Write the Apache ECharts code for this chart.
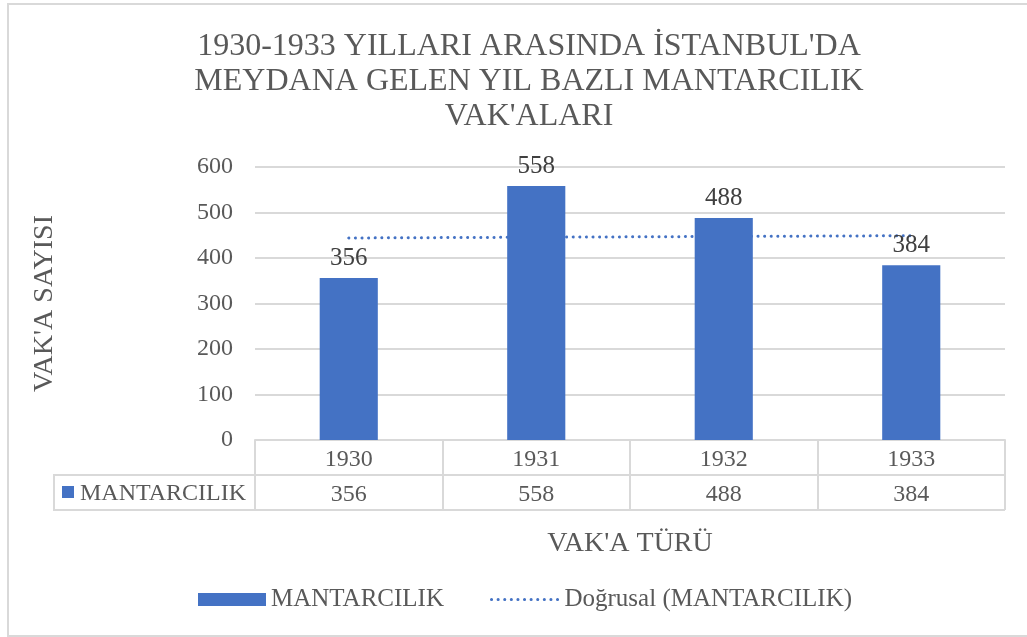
<!DOCTYPE html>
<html>
<head>
<meta charset="utf-8">
<script src="https://cdn.jsdelivr.net/npm/echarts@6/dist/echarts.min.js"></script>
<style>
  html, body { margin: 0; padding: 0; background: #fff; }
  #chart { width: 1027px; height: 637px; }
</style>
</head>
<body>
<div id="chart"></div>
<script>
var years = ['1930', '1931', '1932', '1933'];
var mantarcilik = [356, 558, 488, 384];
// trend line: start and end only
var trend = [444, '-', '-', 449];
var yTicks = { min: 0, max: 600, interval: 100 };

var serif = '"Liberation Serif", "DejaVu Serif", serif';
var textColor = '#595959';
var blue = '#4472C4';
var gridLine = '#d9d9d9';

var chart = echarts.init(document.getElementById('chart'));

var option = {
    backgroundColor: '#fff',
    animation: false,
    title: {
        text: "1930-1933 YILLARI ARASINDA İSTANBUL'DA\nMEYDANA GELEN YIL BAZLI MANTARCILIK\nVAK'ALARI",
        left: 524,
        top: 24,
        textAlign: 'center',
        textStyle: {
            fontFamily: serif,
            fontWeight: 'normal',
            fontSize: 32,
            lineHeight: 35,
            color: textColor
        }
    },
    legend: {
        bottom: 20,
        left: 193,
        itemWidth: 68,
        itemHeight: 13,
        itemGap: 46,
        textStyle: { fontFamily: serif, fontSize: 25, color: textColor },
        data: [
            { name: 'MANTARCILIK', icon: 'rect' },
            { name: 'Doğrusal (MANTARCILIK)', itemStyle: { opacity: 0 }, lineStyle: { width: 3 } }
        ]
    },
    grid: { left: 255, right: 22, top: 167, bottom: 197, containLabel: false },
    xAxis: [{
        type: 'category',
        data: years,
        position: 'bottom',
        axisLine: { lineStyle: { color: gridLine, width: 2 } },
        axisTick: { show: true, length: 70, lineStyle: { color: gridLine, width: 2 } },
        axisLabel: { margin: 8, fontFamily: serif, fontSize: 24, color: textColor },
        name: "VAK'A TÜRÜ",
        nameLocation: 'middle',
        nameGap: 90,
        nameTextStyle: { fontFamily: serif, fontSize: 28, color: textColor }
    }, {
        type: 'category',
        data: mantarcilik.map(String),
        position: 'bottom',
        offset: 35,
        axisLine: { show: false },
        axisTick: { show: false },
        axisLabel: { margin: 8, fontFamily: serif, fontSize: 24, color: textColor }
    }],
    yAxis: {
        type: 'value',
        min: yTicks.min,
        max: yTicks.max,
        interval: yTicks.interval,
        axisLine: { show: false },
        axisTick: { show: false },
        splitLine: { lineStyle: { color: gridLine, width: 2 } },
        axisLabel: { margin: 22, fontFamily: serif, fontSize: 24, color: textColor },
        name: "VAK'A SAYISI",
        nameLocation: 'middle',
        nameGap: 196,
        nameTextStyle: { fontFamily: serif, fontSize: 28, color: textColor }
    },
    series: [{
        name: 'Doğrusal (MANTARCILIK)',
        type: 'line',
        data: trend,
        connectNulls: true,
        symbol: 'none',
        z: 1,
        color: blue,
        lineStyle: { color: blue, width: 3, type: [0.1, 6.5], cap: 'round' }
    }, {
        name: 'MANTARCILIK',
        type: 'bar',
        data: mantarcilik,
        barWidth: '31%',
        z: 3,
        itemStyle: { color: blue },
        label: {
            show: true,
            position: 'top',
            distance: 7,
            fontFamily: serif,
            fontSize: 25,
            color: '#404040'
        }
    }]
};
chart.setOption(option);

// data table lines and outer frame
function drawTable() {
    var x0 = chart.convertToPixel({ xAxisIndex: 0 }, 0);
    var x1 = chart.convertToPixel({ xAxisIndex: 0 }, years.length - 1);
    var band = (x1 - x0) / (years.length - 1);
    var left = x0 - band / 2;
    var right = x1 + band / 2;
    var axisY = chart.convertToPixel({ yAxisIndex: 0 }, 0);
    var rowH = 35;
    var lineStyle = { stroke: gridLine, lineWidth: 2 };
    chart.setOption({
        graphic: [
            { type: 'rect', shape: { x: 8, y: 4, width: 1030, height: 632 }, style: { fill: 'none', stroke: gridLine, lineWidth: 2 }, silent: true },
            { type: 'line', shape: { x1: left, y1: axisY + rowH, x2: right, y2: axisY + rowH }, style: lineStyle },
            { type: 'line', shape: { x1: 54, y1: axisY + 2 * rowH, x2: right, y2: axisY + 2 * rowH }, style: lineStyle },
            { type: 'rect', shape: { x: 54, y: axisY + rowH, width: left - 54, height: rowH }, style: { fill: 'none', stroke: gridLine, lineWidth: 2 } },
            { type: 'rect', shape: { x: 62, y: axisY + rowH + 11, width: 12, height: 12 }, style: { fill: blue } },
            { type: 'text', x: 80, y: axisY + rowH + rowH / 2 + 1, style: { text: 'MANTARCILIK', fontFamily: serif, fontSize: 24, fill: textColor, verticalAlign: 'middle' } }
        ]
    });
}
drawTable();
</script>
</body>
</html>
